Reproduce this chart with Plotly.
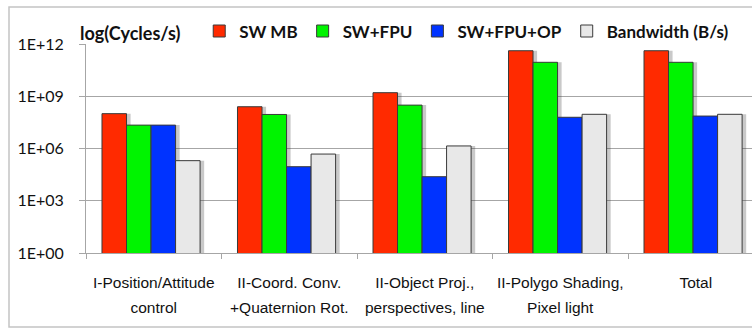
import plotly.graph_objects as go

# ---- data ----
categories = ["I-Position/Attitude|control", "II-Coord. Conv.|+Quaternion Rot.",
              "II-Object Proj.,|perspectives, line", "II-Polygo Shading,|Pixel light", "Total|"]
label_line1 = ["I-Position/Attitude", "II-Coord. Conv.", "II-Object Proj.,", "II-Polygo Shading,", "Total"]
label_line2 = ["control", "+Quaternion Rot.", "perspectives, line", "Pixel light", ""]

series_names = ["SW MB", "SW+FPU", "SW+FPU+OP", "Bandwidth (B/s)"]
sw_mb = [1.0e8, 2.5e8, 1.6e9, 4.1e11, 4.1e11]
sw_fpu = [2.2e7, 9.0e7, 3.1e8, 8.9e10, 8.9e10]
sw_fpu_op = [2.2e7, 9.0e4, 2.4e4, 6.2e7, 7.3e7]
bandwidth = [2.0e5, 4.8e5, 1.4e6, 9.2e7, 9.2e7]

y_tickvals = [1, 1e3, 1e6, 1e9, 1e12]
y_ticktext = ["1E+00", "1E+03", "1E+06", "1E+09", "1E+12"]
y_title = "log(Cycles/s)"

# ---- style ----
colors = ["#FF2A00", "#00F400", "#0033FF", "#E8E8E8"]
offsets = [-0.382, -0.201, -0.020, 0.161]
bar_w = 0.181
shadow_dx = 0.03
all_series = [sw_mb, sw_fpu, sw_fpu_op, bandwidth]

fig = go.Figure()
# drop shadows
for vals, off in zip(all_series, offsets):
    fig.add_trace(go.Bar(x=categories, y=vals, offset=off + shadow_dx, width=bar_w,
                         marker=dict(color="rgba(60,60,60,0.28)", line=dict(width=0)),
                         showlegend=False, hoverinfo="skip"))
# bars
for name, vals, col, off in zip(series_names, all_series, colors, offsets):
    fig.add_trace(go.Bar(x=categories, y=vals, name=name, offset=off, width=bar_w,
                         marker=dict(color=col, line=dict(color="#3a3a3a", width=1))))

xr = [-0.5, 4.415]
grid_c = "#a6a6a6"
lab_font = dict(family="Liberation Sans", size=15.5, color="#111")
fig.update_layout(
    width=752, height=328,
    margin=dict(l=86, r=0, t=44, b=75, autoexpand=False),
    paper_bgcolor="white", plot_bgcolor="white",
    barmode="overlay",
    font=dict(family="Lato", color="#111"),
    xaxis=dict(type="category", range=xr, tickmode="array", tickvals=categories, ticktext=label_line1,
               tickson="boundaries", ticks="outside", ticklen=5, tickcolor=grid_c,
               showline=True, linecolor=grid_c, linewidth=1, showgrid=False,
               tickfont=lab_font, tickangle=0, automargin=False,
               ticklabelstandoff=15),
    xaxis2=dict(overlaying="x", side="bottom", anchor="y", range=xr, type="linear",
                tickmode="array", tickvals=[0, 1, 2, 3, 4], ticktext=label_line2,
                ticks="", showline=False, showgrid=False, zeroline=False,
                tickfont=lab_font, tickangle=0, automargin=False,
                ticklabelstandoff=43),
    yaxis=dict(type="log", range=[0, 12], tickmode="array", tickvals=y_tickvals, ticktext=y_ticktext,
               ticks="outside", ticklen=6, tickcolor=grid_c,
               showline=True, linecolor=grid_c, linewidth=1,
               showgrid=True, gridcolor=grid_c, gridwidth=1, automargin=False,
               tickfont=dict(family="Lato", size=16, color="#111"),
               ticklabelstandoff=12),
    legend=dict(orientation="h", x=0.17, xanchor="left", y=1.06, yanchor="middle",
                bgcolor="rgba(0,0,0,0)", font=dict(family="Lato", size=17, color="#111", weight="bold"),
                traceorder="normal"),
    showlegend=True,
)
# invisible trace so the second label axis is drawn
fig.add_trace(go.Scatter(x=[0], y=[1], xaxis="x2", mode="markers", marker=dict(opacity=0),
                         showlegend=False, hoverinfo="skip"))

fig.add_annotation(text="<b>" + y_title + "</b>", xref="paper", yref="paper",
                   x=-0.012, y=1.052, xanchor="left", yanchor="middle", showarrow=False,
                   font=dict(family="Lato", size=18, color="#111"))
# hide the top gridline under the legend area
fig.add_shape(type="line", xref="paper", yref="y", x0=(193 - 86) / 666, x1=1.0, y0=1e12, y1=1e12,
              line=dict(color="white", width=3), layer="above")
# outer chart frame
fig.add_shape(type="rect", xref="paper", yref="paper", x0=(9 - 86) / 666, x1=1.2,
              y0=(253 - 327) / 209, y1=(253 - 7) / 209, line=dict(color="#c4c4c4", width=1.5),
              layer="below")

fig.write_html("out.html", config={"displayModeBar": False},
               post_script="document.body.style.margin='0px';")
